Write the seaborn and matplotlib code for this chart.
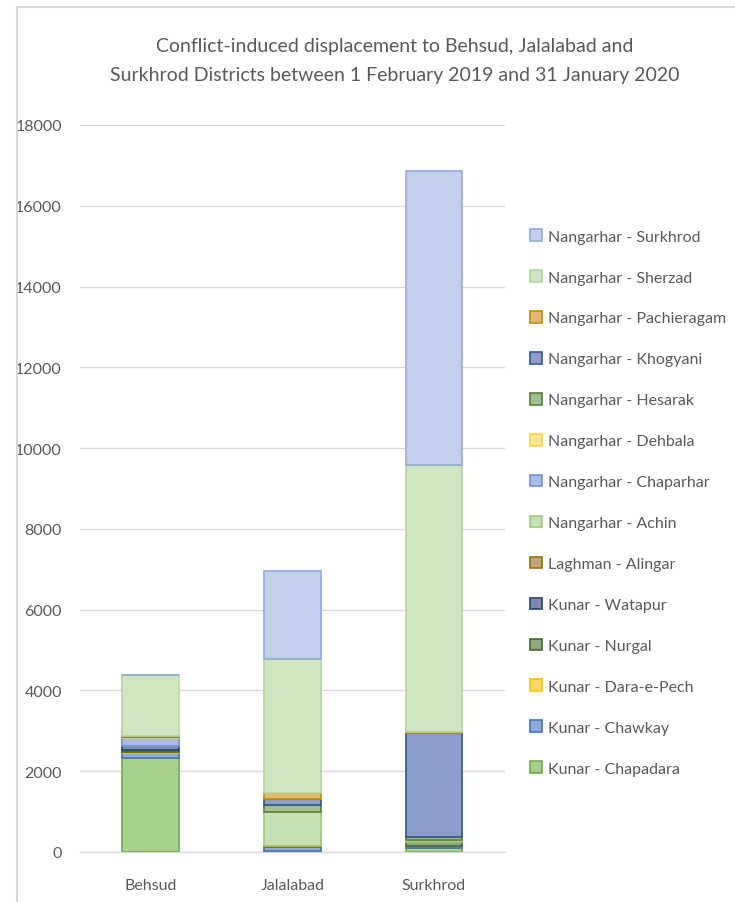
import numpy as np
import pandas as pd
import seaborn as sns
import matplotlib.pyplot as plt
from matplotlib.patches import Patch, Rectangle

# districts receiving displaced people
districts = ["Behsud", "Jalalabad", "Surkhrod"]

# origin -> values for Behsud, Jalalabad, Surkhrod (stack order, bottom first)
origins = [
    "Kunar - Chapadara", "Kunar - Chawkay", "Kunar - Dara-e-Pech", "Kunar - Nurgal",
    "Kunar - Watapur", "Laghman - Alingar", "Nangarhar - Achin", "Nangarhar - Chaparhar",
    "Nangarhar - Dehbala", "Nangarhar - Hesarak", "Nangarhar - Khogyani",
    "Nangarhar - Pachieragam", "Nangarhar - Sherzad", "Nangarhar - Surkhrod",
]
chapadara = [2330, 20, 110]
chawkay = [120, 100, 50]
dara_e_pech = [30, 0, 0]
nurgal = [50, 0, 90]
watapur = [100, 0, 0]
alingar = [0, 40, 0]
achin = [0, 830, 50]
chaparhar = [180, 0, 0]
dehbala = [30, 0, 0]
hesarak = [40, 180, 70]
khogyani = [0, 150, 2580]
pachieragam = [0, 130, 30]
sherzad = [1500, 3340, 6600]
surkhrod = [0, 2160, 7270]

series = [chapadara, chawkay, dara_e_pech, nurgal, watapur, alingar, achin,
          chaparhar, dehbala, hesarak, khogyani, pachieragam, sherzad, surkhrod]

fills = ["#A9D18E", "#8FAADC", "#FFD966", "#8FA882", "#7D8BB0", "#BFA57D", "#C5E0B4",
         "#A9BCE6", "#FFE699", "#A3BE93", "#8C9DCB", "#E2B874", "#D0E6C2", "#C3D0EC"]
edges = ["#70AD47", "#4472C4", "#FFC000", "#43682B", "#264478", "#997300", "#9DC87F",
         "#6F8FD8", "#FFD347", "#548235", "#2F5597", "#BF9000", "#B3D69C", "#8FAADC"]

sns.set_style("white")
plt.rcParams['font.family'] = ['Lato', 'DejaVu Sans']

fig = plt.figure(figsize=(7.35, 9.03), dpi=100)
ax = fig.add_axes([0.1088, 0.0554, 0.578, 0.8051])

grey = "#595959"
bottom = np.zeros(len(districts))
for name, vals, fc, ec in zip(origins, series, fills, edges):
    df = pd.DataFrame({"district": districts, "value": vals})
    sns.barplot(data=df, x="district", y="value", bottom=bottom, color=fc,
                edgecolor=ec, linewidth=1.2, width=0.4, saturation=1, ax=ax)
    bottom = bottom + np.array(vals)

ax.set_xlim(-0.5, 2.5)
ax.set_ylim(0, 18000)
ax.set_yticks(np.arange(0, 18001, 2000))
ax.grid(axis="y", color="#D9D9D9", linewidth=1)
ax.set_axisbelow(True)
for s in ax.spines.values():
    s.set_visible(False)
ax.spines["bottom"].set_visible(True)
ax.spines["bottom"].set_color("#D9D9D9")
ax.tick_params(axis="both", length=0, labelsize=11.5, colors=grey, pad=13)
ax.tick_params(axis="x", pad=19)
ax.set_xlabel("")
ax.set_ylabel("")

fig.text(0.537, 0.932, "Conflict-induced displacement to Behsud, Jalalabad and\n"
         "Surkhrod Districts between 1 February 2019 and 31 January 2020",
         ha="center", va="center", fontsize=14, color=grey, linespacing=1.85)

handles = [Patch(facecolor=fc, edgecolor=ec, linewidth=1.2) for fc, ec in zip(fills, edges)]
fig.legend(handles[::-1], origins[::-1], loc="upper left", bbox_to_anchor=(0.702, 0.761),
           frameon=False, fontsize=11.5, labelcolor=grey, handlelength=0.75,
           handleheight=0.75, handletextpad=0.35, labelspacing=1.66)

fig.patches.append(Rectangle((0.023, -0.01), 1.0, 1.0 - 0.0089 + 0.01, transform=fig.transFigure,
                             fill=False, edgecolor="#D9D9D9", linewidth=1.5))

fig.savefig("out.png", dpi=100)
